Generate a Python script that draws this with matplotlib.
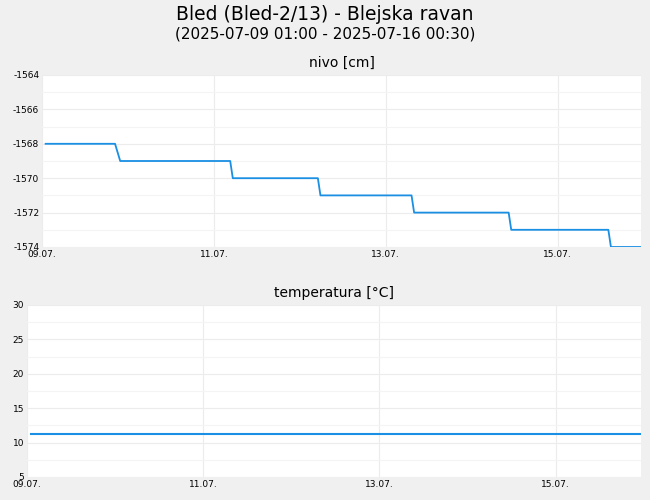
import matplotlib
matplotlib.use("Agg")
import matplotlib.pyplot as plt

# days since 09.07. 00:00
nivo_days = [0.042, 0.85, 0.91, 2.19, 2.22, 3.21, 3.24, 4.30, 4.33, 5.43, 5.46, 6.59, 6.62, 6.98]
nivo_vals = [-1568, -1568, -1569, -1569, -1570, -1570, -1571, -1571, -1572, -1572, -1573, -1573, -1574, -1574]
temp_days = [0.042, 6.98]
temp_vals = [11.3, 11.3]
tick_days = [0, 2, 4, 6]
tick_labels = ["09.07.", "11.07.", "13.07.", "15.07."]
nivo_ticks = [-1574, -1572, -1570, -1568, -1566, -1564]
temp_ticks = [5, 10, 15, 20, 25, 30]

color = "#1a8fe3"
fig = plt.figure(figsize=(6.5, 5), dpi=100, facecolor="#f0f0f0")
fig.text(0.5, 1 - 14/500, "Bled (Bled-2/13) - Blejska ravan", ha="center", va="center", fontsize=13.5)
fig.text(0.5, 1 - 34/500, "(2025-07-09 01:00 - 2025-07-16 00:30)", ha="center", va="center", fontsize=11)

def style(ax, yticks, ylim, title):
    ax.set_facecolor("white")
    for s in ax.spines.values():
        s.set_visible(False)
    ax.set_xlim(0, 6.97)
    ax.set_ylim(*ylim)
    ax.set_xticks(tick_days)
    ax.set_xticklabels(tick_labels, fontsize=6.5)
    ax.set_yticks(yticks)
    ax.set_yticklabels([str(t) for t in yticks], fontsize=6.5)
    ax.set_yticks([(a + b) / 2 for a, b in zip(yticks[:-1], yticks[1:])], minor=True)
    ax.tick_params(which="both", length=0, pad=2)
    ax.grid(True, color="#ececec", linewidth=0.8)
    ax.grid(True, which="minor", axis="y", color="#f4f4f4", linewidth=0.8)
    ax.set_title(title, fontsize=10, pad=6)

ax1 = fig.add_axes([42/650, 1 - 247/500, 599/650, 172/500])
ax1.plot(nivo_days, nivo_vals, color=color, linewidth=1.3)
style(ax1, nivo_ticks, (-1574, -1564), "nivo [cm]")

ax2 = fig.add_axes([27/650, 1 - 477/500, 614/650, 172/500])
ax2.plot(temp_days, temp_vals, color=color, linewidth=1.5)
style(ax2, temp_ticks, (5, 30), "temperatura [°C]")

fig.savefig("out.png", dpi=100, facecolor=fig.get_facecolor())
